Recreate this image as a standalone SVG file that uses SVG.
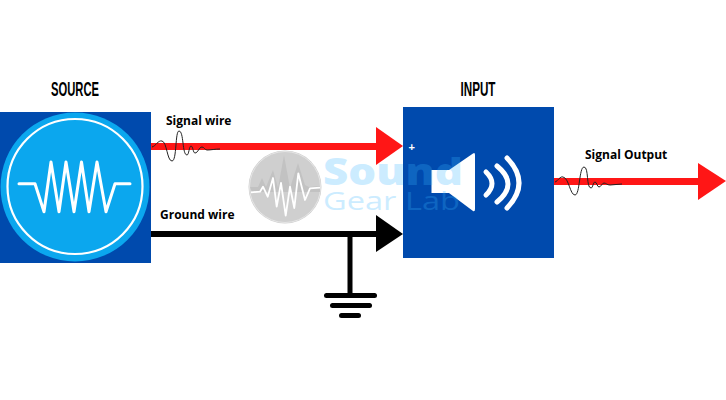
<svg xmlns="http://www.w3.org/2000/svg" width="726" height="400" viewBox="0 0 726 400">
<style>
.title{font-family:"Liberation Sans Narrow","Liberation Sans",sans-serif;font-size:21px;font-weight:700;fill:#000}
.label{font-family:"Open Sans","Noto Sans",sans-serif;font-size:12px;font-weight:700;fill:#000}
.wm{font-family:"Open Sans","Liberation Sans",sans-serif;fill:#38b6ff;opacity:.25}
.red{fill:#ff1616}
.wig{fill:none;stroke:#222;stroke-width:1}
.w{fill:none;stroke:#fff;stroke-linecap:round;stroke-linejoin:round}
</style>
<rect width="726" height="400" fill="#fff"/>
<g id="source">
<rect x="0" y="112" width="151" height="151" fill="#004aad"/>
<circle cx="75" cy="187" r="74.500" fill="#0ba7ee"/>
<circle cx="75" cy="186.500" r="67.500" fill="none" stroke="#fff" stroke-width="2.200"/>
<polyline class="w" stroke-width="3" points="19,183.700 35,183.700 44,211.700 51,162 59,211.700 66,162 74,211.700 81.500,162 89,211.700 97,162 106,211.700 115,183.700 130,183.700"/>
<text class="title" x="75" y="96" text-anchor="middle" textLength="48" lengthAdjust="spacingAndGlyphs">SOURCE</text>
</g>
<g id="input">
<rect x="403" y="107" width="151" height="151" fill="#004aad"/>
<path fill="#fff" d="M431.500,170H449L473,153.500Q475,152 475,155V209Q475,212 473,211L449,193H431.500Z"/>
<g class="w" stroke-width="5">
<path d="M486,172Q498,183.500 486,195"/>
<path d="M497,166Q519,184 497,202"/>
<path d="M507,158Q531,183 507,208"/>
</g>
<text x="411.700" y="150.500" text-anchor="middle" font-family="Liberation Sans,sans-serif" font-size="11" font-weight="700" fill="#fff">+</text>
<text class="title" x="478" y="96" text-anchor="middle" textLength="35" lengthAdjust="spacingAndGlyphs">INPUT</text>
</g>
<g id="connectors">
<rect class="red" x="151" y="143" width="226" height="7"/>
<polygon class="red" points="376,127 403,146 376,165"/>
<rect x="151" y="231" width="226" height="6"/>
<polygon points="376,215 403,234 376,252"/>
<rect x="347.500" y="234" width="5" height="61"/>
<rect x="324" y="293" width="53" height="5" rx="2.500"/>
<rect x="330" y="303" width="42" height="5" rx="2.500"/>
<rect x="339" y="313" width="22" height="5" rx="2.500"/>
<rect class="red" x="554" y="178" width="146" height="7"/>
<polygon class="red" points="698,163 726,181 698,200"/>
<path class="wig" d="M152,147C156,146 158,140 162,141C167,142 167,161 172,161C177,161 175,131 179,131C184,131 182,155 187,155C189,155 189,146 191,146C193,146 193,153 195,153C198,153 199,147 202,147C204,147 205,150 207,150C211,150 215,149 220,149"/>
<path class="wig" d="M555,182C558,181 560,176 563,177C569,178 570,195 575,195C580,195 579,167 584,167C589,167 586,188 591,188C593,188 593,182 595,182C597,182 597,187 599,187C601,187 602,183 604,183C606,183 607,185 610,185C614,185 618,184 622,184"/>
</g>
<g id="labels">
<text class="label" x="166" y="125">Signal wire</text>
<text class="label" x="160" y="219">Ground wire</text>
<text class="label" x="585" y="159">Signal Output</text>
</g>
<g id="watermark">
<circle cx="285" cy="187" r="36.500" fill="#cfcfcf"/>
<circle cx="285" cy="187" r="35.500" fill="none" stroke="#e6e6e6" stroke-width="1"/>
<polygon fill="#c2c2c2" points="250,187 258,187 262,178 266,187 273,170 278,188 284,155 290,188 298,163 305,185 309,187 320,186 320,192 252,192"/>
<polyline fill="none" stroke="#fff" stroke-width="1.800" stroke-linejoin="round" points="251,192.300 260,191.700 263,186.700 267.700,196.700 273,178 276.700,206.700 281,183 285.700,215.700 290,186.700 294.300,208 298.300,173.300 305,200 310,188.300 320,187.700"/>
<text class="wm" x="323" y="185" font-size="37" font-weight="800" textLength="140" lengthAdjust="spacingAndGlyphs">Sound</text>
<text class="wm" x="323" y="210" font-size="26" font-weight="500" textLength="137" lengthAdjust="spacingAndGlyphs">Gear Lab</text>
</g>
</svg>
